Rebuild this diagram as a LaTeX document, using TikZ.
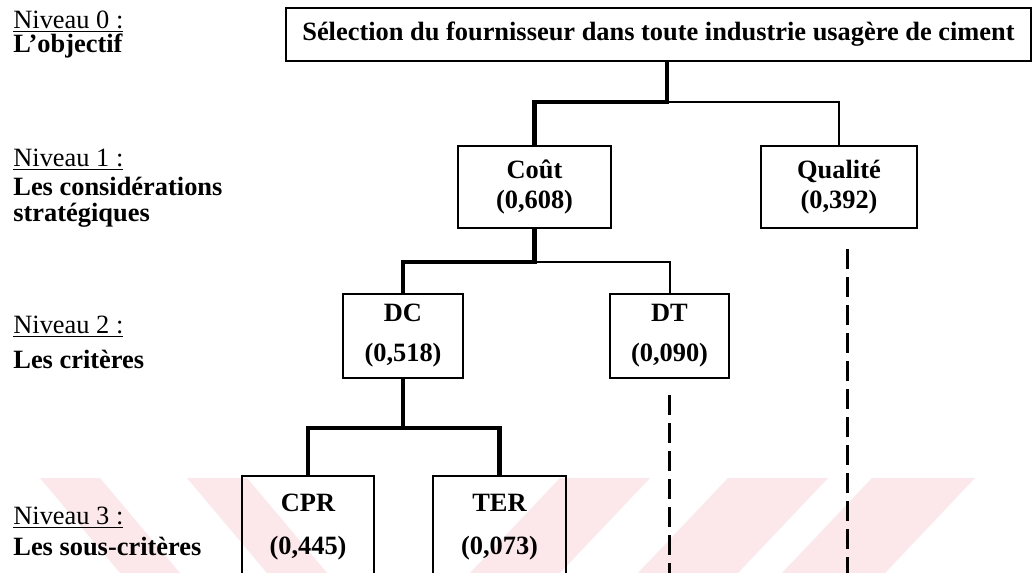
\documentclass[tikz,border=0pt]{standalone}
\usepackage{fontspec}
\setmainfont{Liberation Serif}
\newcommand{\diagfont}{\fontsize{13.2}{15}\selectfont}
\definecolor{wmark}{RGB}{252,232,235}
\begin{document}
\begin{tikzpicture}[x=0.5pt,y=-0.5pt,
    every node/.style={font=\diagfont},
    box/.style={draw, line width=1.2pt, align=center, inner sep=0pt, font=\diagfont\bfseries},
    heavy/.style={line width=2.2pt},
    light/.style={line width=1pt},
    dashline/.style={line width=1.5pt, dash pattern=on 10pt off 4pt},
    levelname/.style={anchor=base west, inner sep=0pt},
    levelinfo/.style={anchor=base west, inner sep=0pt, font=\diagfont\bfseries}]
    \useasboundingbox (0,0) rectangle (1035,573);
    \clip (0,0) rectangle (1035,573);
    % watermark stripes
    \fill[wmark] (40,478) -- (100,478) -- (180,573) -- (120,573) -- cycle;
    \fill[wmark] (187,478) -- (247,478) -- (327,573) -- (267,573) -- cycle;
    \fill[wmark] (560,478) -- (650,478) -- (560,573) -- (470,573) -- cycle;
    \fill[wmark] (728,478) -- (828,478) -- (738,573) -- (638,573) -- cycle;
    \fill[wmark] (872,478) -- (975,478) -- (885,573) -- (782,573) -- cycle;
    % levels
    \node[levelname] (n0) at (13,28) {\underline{Niveau 0 :}};
    \node[levelinfo] (l0) at (13,53) {L'objectif};
    \node[levelname] (n1) at (13,166) {\underline{Niveau 1 :}};
    \node[levelinfo, anchor=north west, align=left] (l1) at (13,177) {Les considérations\\[-2pt]stratégiques};
    \node[levelname] (n2) at (13,333) {\underline{Niveau 2 :}};
    \node[levelinfo] (l2) at (13,368) {Les critères};
    \node[levelname] (n3) at (13,524) {\underline{Niveau 3 :}};
    \node[levelinfo] (l3) at (13,555) {Les sous-critères};
    % hierarchy
    \node[box, minimum width=372.5pt, minimum height=26.5pt] (top) at (658.5,34.5) {Sélection du fournisseur dans toute industrie usagère de ciment};
    \node[box, minimum width=76.5pt, minimum height=41pt] (cout) at (534.5,187) {Coût\\(0,608)};
    \node[box, minimum width=78pt, minimum height=41pt] (qual) at (839,187) {Qualité\\(0,392)};
    \node[box, minimum width=60pt, minimum height=42pt] (dc) at (403,336) {DC\\[5pt](0,518)};
    \node[box, minimum width=59.5pt, minimum height=42pt] (dt) at (669.5,336) {DT\\[5pt](0,090)};
    \node[box, minimum width=66pt, minimum height=51.5pt] (cpr) at (308,527.5) {CPR\\[6.5pt](0,445)};
    \node[box, minimum width=66.5pt, minimum height=51.5pt] (ter) at (499.5,527.5) {TER\\[6.5pt](0,073)};
    \coordinate (j0) at (667,102);
    \coordinate (j1) at (534.5,262);
    \coordinate (j2) at (403,428);
    \coordinate (dtend) at (669.5,580);
    \coordinate (qend) at (847,580);
    \draw[heavy] (top.south -| j0) -- (j0) -| (cout.north);
    \draw[light] (j0) -| (qual.north);
    \draw[heavy] (cout.south) -- (j1) -| (dc.north);
    \draw[light] (j1) -| (dt.north);
    \draw[heavy] (dc.south) -- (j2);
    \draw[heavy] (cpr.north) |- (j2) -| (ter.north);
    \draw[dashline, shorten <=8pt] (dt.south) -- (dtend);
    \draw[dashline, shorten <=10pt] (qual.south -| qend) -- (qend);
\end{tikzpicture}
\end{document}
